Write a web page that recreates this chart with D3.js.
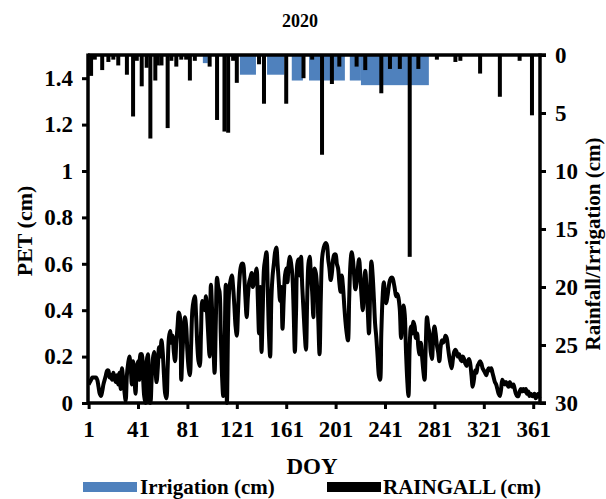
<!DOCTYPE html>
<html>
<head>
<meta charset="utf-8">
<script src="https://cdn.jsdelivr.net/npm/d3@7"></script>
<style>
  html, body { margin: 0; padding: 0; background: #fff; }
  svg { display: block; }
  text { font-family: "Liberation Serif", "Times New Roman", serif; font-weight: bold; fill: #000; }
</style>
</head>
<body>
<script>
// ---------------- DATA ----------------
const title = "2020";
const xTickLabels = [1, 41, 81, 121, 161, 201, 241, 281, 321, 361];
const leftTicks = [0, 0.2, 0.4, 0.6, 0.8, 1, 1.2, 1.4];
const rightTicks = [0, 5, 10, 15, 20, 25, 30];

// Daily PET (cm), DOY 1..366
const pet = [
  0.08,0.09,0.10,0.11,0.11,0.11,0.11,0.10,0.07,0.04,
  0.03,0.05,0.08,0.10,0.12,0.14,0.14,0.11,0.12,0.10,
  0.13,0.11,0.09,0.12,0.08,0.13,0.06,0.15,0.10,0.05,
  0.01,0.12,0.17,0.20,0.16,0.08,0.18,0.12,0.04,0.15,
  0.18,0.10,0.21,0.21,0.12,0.03,0.00,0.18,0.21,0.02,
  0.00,0.10,0.19,0.22,0.16,0.09,0.15,0.24,0.20,0.27,
  0.22,0.12,0.04,0.02,0.15,0.28,0.31,0.26,0.29,0.22,
  0.18,0.26,0.33,0.39,0.37,0.10,0.22,0.31,0.37,0.33,
  0.22,0.15,0.12,0.25,0.40,0.44,0.46,0.38,0.25,0.18,
  0.16,0.30,0.44,0.42,0.40,0.46,0.38,0.28,0.20,0.51,
  0.40,0.26,0.13,0.35,0.54,0.50,0.48,0.30,0.12,0.03,
  0.20,0.51,0.00,0.35,0.50,0.53,0.55,0.50,0.42,0.33,
  0.29,0.40,0.52,0.58,0.60,0.60,0.55,0.45,0.37,0.46,
  0.52,0.54,0.56,0.50,0.52,0.55,0.58,0.45,0.30,0.50,
  0.22,0.40,0.58,0.62,0.65,0.50,0.30,0.20,0.45,0.55,
  0.60,0.65,0.67,0.60,0.52,0.44,0.50,0.32,0.45,0.55,
  0.58,0.52,0.60,0.63,0.60,0.55,0.40,0.22,0.40,0.60,
  0.62,0.55,0.63,0.50,0.40,0.30,0.23,0.45,0.60,0.63,
  0.55,0.48,0.37,0.58,0.56,0.50,0.35,0.21,0.45,0.62,
  0.66,0.68,0.69,0.68,0.62,0.58,0.53,0.56,0.62,0.64,
  0.64,0.60,0.58,0.52,0.48,0.55,0.50,0.42,0.35,0.30,
  0.27,0.45,0.60,0.65,0.62,0.55,0.49,0.52,0.58,0.62,
  0.55,0.46,0.40,0.50,0.57,0.50,0.40,0.30,0.48,0.61,
  0.55,0.45,0.34,0.28,0.20,0.12,0.10,0.30,0.45,0.52,
  0.47,0.43,0.46,0.50,0.53,0.54,0.54,0.52,0.49,0.46,
  0.47,0.45,0.40,0.28,0.36,0.42,0.38,0.22,0.10,0.03,
  0.25,0.33,0.30,0.35,0.33,0.28,0.30,0.24,0.21,0.26,
  0.20,0.14,0.10,0.25,0.37,0.33,0.30,0.22,0.19,0.28,
  0.33,0.30,0.25,0.22,0.18,0.24,0.27,0.26,0.27,0.29,
  0.28,0.24,0.20,0.17,0.15,0.19,0.22,0.23,0.22,0.20,
  0.21,0.19,0.18,0.20,0.19,0.17,0.16,0.18,0.19,0.17,
  0.12,0.07,0.10,0.14,0.13,0.16,0.17,0.18,0.17,0.15,
  0.14,0.13,0.12,0.14,0.15,0.14,0.15,0.13,0.11,0.09,
  0.08,0.06,0.04,0.03,0.06,0.10,0.09,0.08,0.09,0.08,
  0.07,0.09,0.08,0.07,0.08,0.06,0.04,0.03,0.03,0.05,
  0.06,0.05,0.06,0.05,0.06,0.04,0.05,0.03,0.04,0.03,
  0.03,0.04,0.02,0.03,0.04,0.02
];

// Rainfall events (DOY, cm)
const rainDays   = [3, 6, 12, 17, 21, 25, 32, 37, 40, 44, 48, 51, 55, 57, 60, 65, 68, 72, 76, 80, 83, 87,
                    99, 105, 111, 114, 118, 121, 139, 143, 161, 175, 182, 190, 198, 204, 218, 225, 238,
                    245, 253, 261, 268, 283, 298, 302, 318, 334, 350, 360];
const rainValues = [1.8, 0.4, 1.3, 0.6, 0.4, 0.9, 1.7, 5.3, 0.5, 2.7, 1.1, 7.2, 2.2, 0.9, 0.9, 6.3, 0.5, 1.0, 0.4, 0.4, 2.2, 0.5,
                    1.0, 5.6, 6.6, 6.7, 0.5, 2.4, 0.8, 4.2, 4.2, 2.0, 0.4, 8.6, 2.5, 1.0, 1.0, 1.3, 3.3,
                    1.2, 1.2, 17.4, 1.2, 0.4, 0.6, 0.5, 1.6, 3.6, 0.5, 5.2];

// Irrigation applications (DOY start, DOY end, cm per day)
const irrStart  = [94, 124, 146, 166, 180, 198, 213, 222];
const irrEnd    = [97, 136, 159, 174, 196, 208, 221, 276];
const irrAmount = [0.7, 1.7, 1.7, 2.2, 2.2, 2.2, 2.2, 2.6];

const legendLabels = ["Irrigation (cm)", "RAINGALL (cm)"];
const colors = { irrigation: "#4f81bd", rain: "#000000", pet: "#000000" };

// ---------------- CHART ----------------
const W = 606, H = 499;
const plot = { left: 88, right: 540, top: 55, bottom: 403 };

const svg = d3.select("body").append("svg").attr("width", W).attr("height", H);

const x = d3.scaleLinear().domain([0.5, 366.5]).range([plot.left, plot.right]);
const yL = d3.scaleLinear().domain([0, 1.5]).range([plot.bottom, plot.top]);
const yR = d3.scaleLinear().domain([0, 30]).range([plot.top, plot.bottom]);

// Irrigation bars (hanging from top)
const irr = irrStart.map((s, i) => ({ s, e: irrEnd[i], v: irrAmount[i] }));
svg.append("g").selectAll("rect").data(irr).join("rect")
  .attr("x", d => x(d.s - 0.5))
  .attr("width", d => x(d.e + 0.5) - x(d.s - 0.5))
  .attr("y", yR(0))
  .attr("height", d => yR(d.v) - yR(0))
  .attr("fill", colors.irrigation);

// PET line
const line = d3.line()
  .x((d, i) => x(i + 1))
  .y(d => yL(d))
  .curve(d3.curveCatmullRom.alpha(0.5));
svg.append("path").datum(pet)
  .attr("d", line)
  .attr("fill", "none")
  .attr("stroke", colors.pet)
  .attr("stroke-width", 4)
  .attr("stroke-linejoin", "round");

// Rain bars
const rain = rainDays.map((d, i) => ({ d, v: rainValues[i] }));
const barW = 4;
svg.append("g").selectAll("rect").data(rain).join("rect")
  .attr("x", d => x(d.d) - barW / 2)
  .attr("width", barW)
  .attr("y", yR(0))
  .attr("height", d => yR(d.v) - yR(0))
  .attr("fill", colors.rain);

// Axes
const fontSize = 23;
function styleAxis(g) {
  g.select(".domain").remove();
  g.selectAll(".tick line").attr("stroke", "#000").attr("stroke-width", 3);
  g.selectAll(".tick text").style("font-size", fontSize + "px")
    .style("font-family", '"Liberation Serif", "Times New Roman", serif')
    .style("font-weight", "bold").attr("fill", "#000");
}

const gL = svg.append("g").attr("transform", `translate(${plot.left},0)`)
  .call(d3.axisLeft(yL).tickValues(leftTicks).tickFormat(d => String(+d.toFixed(1))).tickSizeOuter(0).tickSize(6).tickPadding(9));
styleAxis(gL);

const gR = svg.append("g").attr("transform", `translate(${plot.right},0)`)
  .call(d3.axisRight(yR).tickValues(rightTicks).tickSizeOuter(0).tickSize(6).tickPadding(9));
styleAxis(gR);

const gB = svg.append("g").attr("transform", `translate(0,${plot.bottom})`)
  .call(d3.axisBottom(x).tickValues(xTickLabels).tickFormat(d3.format("d")).tickSizeOuter(0).tickSize(6).tickPadding(12));
styleAxis(gB);

// Axis lines (thick)
const axisStroke = 3.5;
svg.append("line").attr("x1", plot.left).attr("x2", plot.left).attr("y1", plot.top - 1.5).attr("y2", plot.bottom + 1.5)
  .attr("stroke", "#000").attr("stroke-width", axisStroke);
svg.append("line").attr("x1", plot.right).attr("x2", plot.right).attr("y1", plot.top - 1.5).attr("y2", plot.bottom + 1.5)
  .attr("stroke", "#000").attr("stroke-width", axisStroke);
svg.append("line").attr("x1", plot.left).attr("x2", plot.right + 6).attr("y1", plot.bottom).attr("y2", plot.bottom)
  .attr("stroke", "#000").attr("stroke-width", axisStroke);
svg.append("line").attr("x1", plot.left).attr("x2", plot.right + 6).attr("y1", plot.top).attr("y2", plot.top)
  .attr("stroke", "#000").attr("stroke-width", axisStroke);

// Titles
svg.append("text").attr("x", 300).attr("y", 27).attr("text-anchor", "middle")
  .style("font-size", "18px").text(title);
svg.append("text").attr("x", 312).attr("y", 474).attr("text-anchor", "middle")
  .style("font-size", "23px").text("DOY");
svg.append("text").attr("transform", "translate(32,231) rotate(-90)").attr("text-anchor", "middle")
  .style("font-size", "22px").text("PET (cm)");
svg.append("text").attr("transform", "translate(600,244) rotate(-90)").attr("text-anchor", "middle")
  .style("font-size", "21px").text("Rainfall/Irrigation (cm)");

// Legend
const leg = svg.append("g");
const legItems = [
  { label: legendLabels[0], color: colors.irrigation, rx: 83, tx: 140 },
  { label: legendLabels[1], color: colors.rain, rx: 327, tx: 383 }
];
legItems.forEach(it => {
  leg.append("rect").attr("x", it.rx).attr("y", 482).attr("width", 54).attr("height", 10).attr("fill", it.color);
  leg.append("text").attr("x", it.tx).attr("y", 494).style("font-size", "21px").text(it.label);
});
</script>
</body>
</html>
